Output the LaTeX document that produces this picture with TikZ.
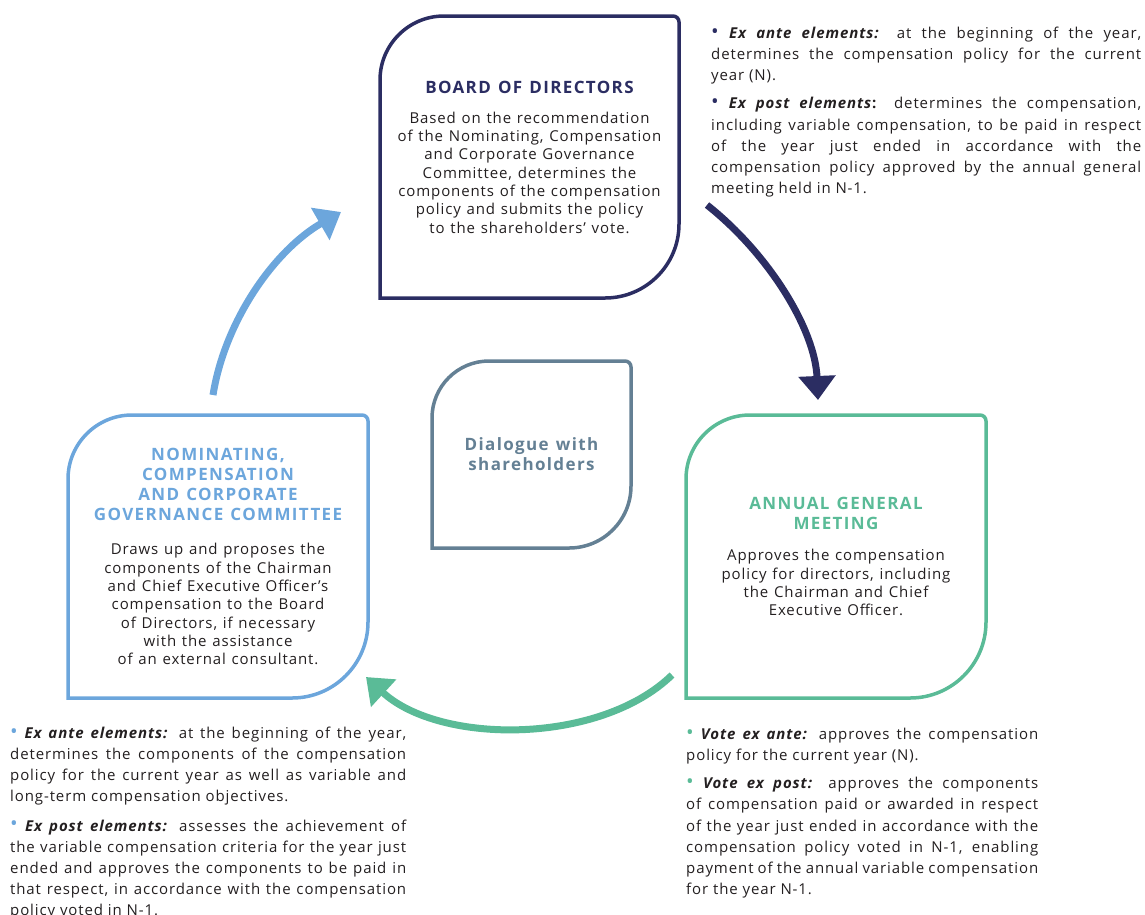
\documentclass[tikz,border=0pt]{standalone}
\usepackage{fontspec}
\setmainfont{Open Sans}[LetterSpace=6]
\newfontfamily\headfamily{Open Sans}[LetterSpace=8]
\usetikzlibrary{arrows.meta,positioning}

\definecolor{navy}{RGB}{43,45,98}
\definecolor{skyblue}{RGB}{108,166,220}
\definecolor{mint}{RGB}{90,187,151}
\definecolor{slate}{RGB}{100,128,148}
\definecolor{ink}{RGB}{35,31,32}

\hbadness=10000
\newcommand{\titlefont}{\headfamily\fontsize{17}{20}\selectfont\bfseries\spaceskip=0.42em\relax}
\newcommand{\bodyfont}{\fontsize{15}{18.3}\selectfont\spaceskip=0.38em\relax}
\newcommand{\notefont}{\fontsize{15}{21.1}\selectfont\parindent=0pt}
\newcommand{\dotb}[1]{{\color{#1}\raisebox{0.5pt}{\scalebox{1.35}{\textbullet}}}\ }
\newcommand{\exlabel}[1]{\textbf{\textit{#1}}}

% frame with rounded top-left and bottom-right corners
\newcommand{\leafframe}[4]{%
  \draw[leafline,#1] (#2.south west) -- ([yshift=-#3]#2.north west)
    arc[start angle=180,end angle=90,radius=#3] -- ([xshift=-6]#2.north east)
    arc[start angle=90,end angle=0,radius=6] -- ([yshift=#4]#2.south east)
    arc[start angle=0,end angle=-90,radius=#4] -- cycle;}

\begin{document}
\begin{tikzpicture}[x=1pt,y=1pt,
    leafbox/.style={inner sep=0, outer sep=0, align=center, text=ink},
    leafline/.style={line width=3.5pt},
    note/.style={inner sep=0, anchor=north west, align=justify, text=ink, font=\notefont},
    flow/.style={line width=7pt, -{Triangle[length=24pt,width=36pt]}}]
    \useasboundingbox (0,0) rectangle (1145,-914);

    % Boxes
    \node[leafbox, minimum width=299, minimum height=282, text width=292] (bod) at (529.5,-157)
        {{\titlefont\color{navy}BOARD OF DIRECTORS\par}\vspace{12pt}
         {\bodyfont Based on the recommendation\\ of the Nominating, Compensation\\ and Corporate Governance\\
          Committee, determines the\\ components of the compensation\\ policy and submits the policy\\
          to the shareholders’ vote.\par}};
    \node[leafbox, minimum width=300, minimum height=283, text width=292] (ncg) at (218,-556.5)
        {{\titlefont\color{skyblue}NOMINATING,\\ COMPENSATION\\ AND CORPORATE\\ GOVERNANCE COMMITTEE\par}\vspace{16pt}
         {\bodyfont Draws up and proposes the\\ components of the Chairman\\ and Chief Executive Officer’s\\
          compensation to the Board\\ of Directors, if necessary\\ with the assistance\\ of an external consultant.\par}};
    \node[leafbox, minimum width=300, minimum height=283, text width=292] (agm) at (836,-556.5)
        {{\titlefont\color{mint}ANNUAL GENERAL\\ MEETING\par}\vspace{13pt}
         {\bodyfont Approves the compensation\\ policy for directors, including\\ the Chairman and Chief\\ Executive Officer.\par}};
    \node[leafbox, minimum width=199, minimum height=187, text width=192] (dws) at (531.5,-454.5)
        {\titlefont\color{slate}Dialogue with\\ shareholders\par};

    \leafframe{navy}{bod}{64}{74}
    \leafframe{skyblue}{ncg}{64}{76}
    \leafframe{mint}{agm}{64}{76}
    \leafframe{slate}{dws}{57}{62}

    % Notes
    \node[note, text width=430] (bodnote) at (711,-27)
        {\dotb{navy}\exlabel{Ex ante elements:} at the beginning of the year,\linebreak
         determines the compensation policy for the current\linebreak year (N).\par\vspace{7pt}
         \dotb{navy}\textbf{\textit{Ex post elements}:} determines the compensation,\linebreak
         including variable compensation, to be paid in respect\linebreak
         of the year just ended in accordance with the\linebreak
         compensation policy approved by the annual general\linebreak meeting held in N-1.};
    \node[note, text width=396] (ncgnote) at (10,-727)
        {\dotb{skyblue}\exlabel{Ex ante elements:} at the beginning of the year,\linebreak
         determines the components of the compensation\linebreak
         policy for the current year as well as variable and\linebreak
         long-term compensation objectives.\par\vspace{8pt}
         \dotb{skyblue}\exlabel{Ex post elements:} assesses the achievement of\linebreak
         the variable compensation criteria for the year just\linebreak
         ended and approves the components to be paid in\linebreak
         that respect, in accordance with the compensation\linebreak
         policy voted in N-1.};
    \node[note, text width=352] (agmnote) at (686,-728)
        {\dotb{mint}\exlabel{Vote ex ante:} approves the compensation\linebreak
         policy for the current year (N).\par\vspace{7pt}
         \dotb{mint}\exlabel{Vote ex post:} approves the components\linebreak
         of compensation paid or awarded in respect\linebreak
         of the year just ended in accordance with the\linebreak
         compensation policy voted in N-1, enabling\linebreak
         payment of the annual variable compensation\linebreak
         for the year N-1.};

    % Arrows
    \coordinate (navyfrom) at (707,-205);
    \coordinate (navyto) at (818,-400);
    \coordinate (mintfrom) at (672,-675);
    \coordinate (mintto) at (366,-677);
    \coordinate (skyfrom) at (213,-395);
    \coordinate (skyto) at (341,-212);
    \draw[flow, navy] (navyfrom) .. controls (770,-255) and (815,-330) .. (navyto);
    \draw[flow, mint] (mintfrom) .. controls (600,-745) and (440,-745) .. (mintto);
    \draw[flow, skyblue] (skyfrom) .. controls (225,-320) and (275,-250) .. (skyto);
\end{tikzpicture}
\end{document}
